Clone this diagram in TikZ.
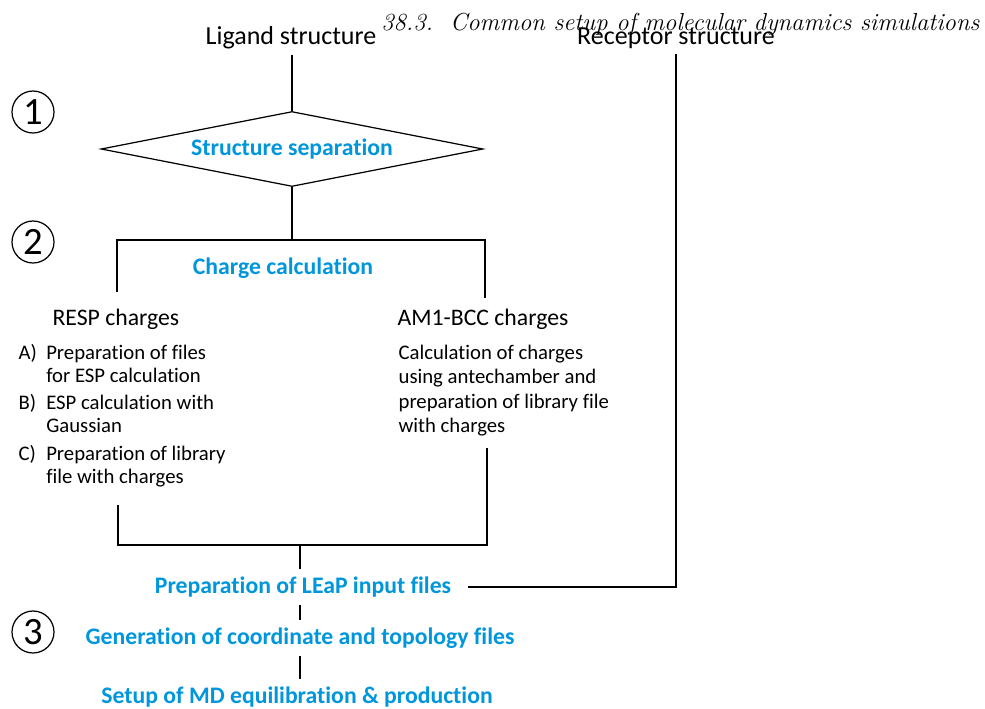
\documentclass[tikz,border=0pt]{standalone}
\usepackage{fontspec}
\newfontfamily\carlito[Ligatures = NoCommon]{Carlito}
\usetikzlibrary{shapes.geometric}
\definecolor{stageblue}{RGB}{0,150,219}

\begin{document}
\begin{tikzpicture}[%
  x = 0.02cm, y = -0.02cm,
  line width = 0.7pt,
  plain/.style = {inner sep = 0pt, font = \carlito\fontsize{13.5}{16}\selectfont},
  body/.style = {inner sep = 0pt, font = \carlito\fontsize{11.8}{13.1}\selectfont},
  stagetext/.style = {text = stageblue, font = \carlito\bfseries\fontsize{13.5}{16}\selectfont},
  stage/.style = {stagetext, inner sep = 0pt, outer sep = 3.5pt, text height = 10pt, text depth = 3pt},
  num/.style = {circle, draw, inner sep = 0pt, minimum size = 0.84cm, font = \carlito\fontsize{22}{22}\selectfont},
  decision/.style = {diamond, draw, inner sep = 0pt, aspect = 5, minimum width = 7.64cm, minimum height = 1.5cm}]

  \useasboundingbox (0,0) rectangle (985,708);

  \node[anchor = base east, inner sep = 0pt, font = \itshape\fontsize{14}{16}\selectfont] (head) at (980,30) {38.3.\ \ Common setup of molecular dynamics simulations};

  \node[plain, font = \carlito\fontsize{14.8}{16}\selectfont, outer sep = 3pt] (lig) at (291,38) {Ligand structure};
  \node[plain, font = \carlito\fontsize{14.8}{16}\selectfont, outer sep = 3pt] (rec) at (676,38) {Receptor structure};

  % step 1: separation
  \node[num] (one) at (33,112) {1};
  \node[decision, stagetext] (sep) at (292,149) {Structure separation};
  \draw (lig.south -| sep.north) -- (sep.north);

  % step 2: charges
  \node[num] (two) at (33,242) {2};
  \coordinate (fork) at (292,240);
  \coordinate (respend) at (117,292);
  \coordinate (amend) at (485,298);
  \draw (sep.south) -- (fork);
  \draw (respend) |- (fork) -| (amend);
  \node[stagetext, inner sep = 0pt] (charge) at (283,268) {Charge calculation};

  \node[plain, anchor = west] (resp) at (52,319) {RESP charges};
  \node[plain, anchor = west] (am1) at (397,319) {AM1-BCC charges};
  \node[body, anchor = base west] (resplist) at (18,359) {%
    \begin{tabular}[t]{@{}l@{\ \ }l@{}}
      A) & Preparation of files\\
         & for ESP calculation\\[2.8pt]
      B) & ESP calculation with\\
         & Gaussian\\[2.8pt]
      C) & Preparation of library\\
         & file with charges
    \end{tabular}};
  \node[body, anchor = base west, font = \carlito\fontsize{11.8}{14}\selectfont] (amtext) at (398,359) {%
    \begin{tabular}[t]{@{}l@{}}
      Calculation of charges\\
      using antechamber and\\
      preparation of library file\\
      with charges
    \end{tabular}};

  \coordinate (respout) at (118,505);
  \coordinate (amout) at (487,448);
  \coordinate (join) at (300,545);
  \draw (respout) |- (join) -| (amout);

  % step 3: LEaP
  \node[num] (three) at (33,632) {3};
  \node[stage] (leap) at (303,587) {Preparation of LEaP input files};
  \node[stage] (gen) at (300,638) {Generation of coordinate and topology files};
  \node[stage] (md) at (297,697) {Setup of MD equilibration \& production};

  \draw (join) -- (join |- leap.north);
  \draw (join |- leap.south) -- (join |- gen.north);
  \draw (join |- gen.south) -- (join |- md.north);
  \draw[shorten <= 0.22cm] (leap.east) -| (rec.south);
\end{tikzpicture}
\end{document}
